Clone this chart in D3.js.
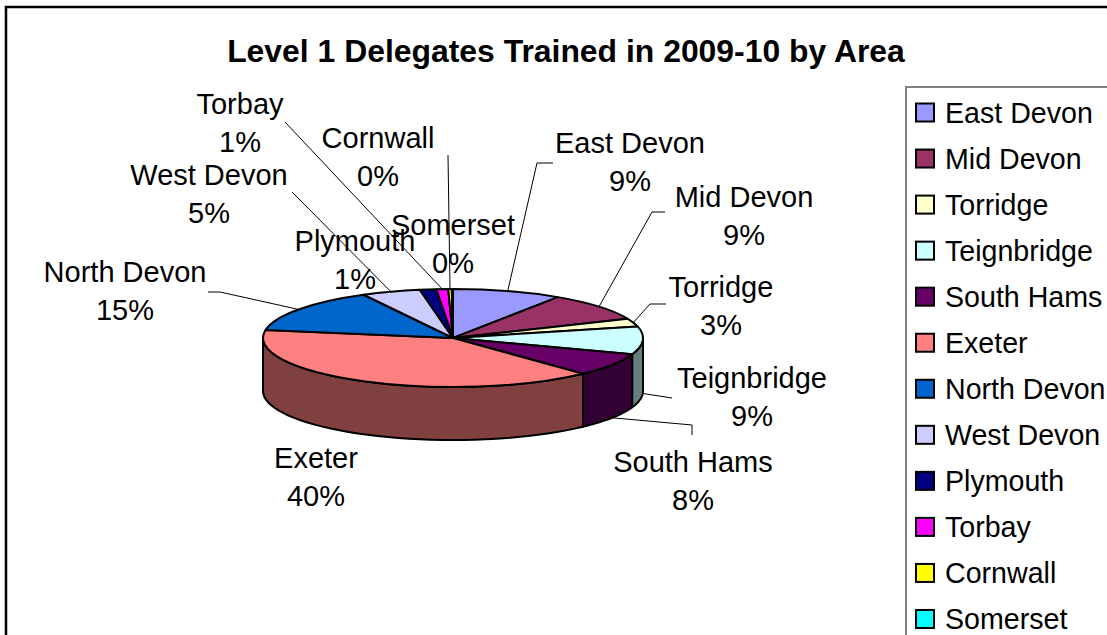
<!DOCTYPE html>
<html><head><meta charset="utf-8">
<script src="https://cdn.jsdelivr.net/npm/d3@7"></script>
<style>html,body{margin:0;padding:0;background:#fff;overflow:hidden}svg{display:block}text{font-family:"Liberation Sans",Arial,sans-serif;fill:#000}</style>
</head><body><svg id="c" width="1107" height="635"></svg>
<script>
const title = "Level 1 Delegates Trained in 2009-10 by Area";
const areas = ["East Devon","Mid Devon","Torridge","Teignbridge","South Hams","Exeter","North Devon","West Devon","Plymouth","Torbay","Cornwall","Somerset"];
const shares = [9.3,9.3,2.6,9.2,7.6,39.6,14.6,5.0,1.4,1.0,0.3,0.1];
const colours = ["#9999ff","#993366","#ffffcc","#ccffff","#660066","#ff8080","#0066cc","#ccccff","#000080","#ff00ff","#ffff00","#00ffff"];

// annotation layout: label centre (first line) and leader elbow points
const labelLayout = {
  "East Devon":{x:630,y:143,elbow:[[553,163],[537,163]]},
  "Mid Devon":{x:744,y:197,elbow:[[665,212],[652,212]]},
  "Torridge":{x:721,y:287,elbow:[[666,304],[650,304]]},
  "Teignbridge":{x:752,y:378,elbow:[[672,398]]},
  "South Hams":{x:693,y:462,elbow:[[692,435],[692,425]]},
  "Exeter":{x:316,y:458},
  "North Devon":{x:125,y:272,elbow:[[208,292],[220,292]]},
  "West Devon":{x:209,y:175,elbow:[[292,192]]},
  "Plymouth":{x:355,y:241},
  "Torbay":{x:240,y:104,elbow:[[285,122]]},
  "Cornwall":{x:378,y:138,elbow:[[448,155]]},
  "Somerset":{x:453,y:225}
};
const cx=453, cy=338, rx=190, ry=49, depth=53, fs=29, legendFs=28.6, lh=37.5;
const svg=d3.select("#c");
const fmt=d3.format(".0%");
const total=d3.sum(shares);
const pie=d3.pie().sort(null).value(d=>d.v);
const slices=pie(areas.map((n,i)=>({n,v:shares[i],c:colours[i]})));
const rim=(a,dy=0)=>[cx+rx*Math.sin(a),cy-ry*Math.cos(a)+dy];

// chart frame
svg.append("rect").attr("x",6).attr("y",7).attr("width",1120).attr("height",660).attr("fill","#fff").attr("stroke","#000").attr("stroke-width",2.5);
svg.append("text").attr("x",566).attr("y",62).attr("text-anchor","middle").attr("font-weight","bold").attr("font-size",31.9).text(title);

// side walls (front half only)
const wallColour=c=>{const k=d3.rgb(c);return d3.rgb(k.r/2,k.g/2,k.b/2).formatHex();};
const line=d3.line();
slices.forEach(s=>{
  const a0=Math.max(s.startAngle,Math.PI/2), a1=Math.min(s.endAngle,Math.PI*1.5);
  if(a1<=a0) return;
  const ts=d3.range(0,41).map(i=>a0+(a1-a0)*i/40);
  const pts=ts.map(t=>rim(t)).concat(ts.slice().reverse().map(t=>rim(t,depth)));
  svg.append("path").attr("d",line(pts)+"Z").attr("fill",wallColour(s.data.c)).attr("stroke","#000").attr("stroke-width",2).attr("stroke-linejoin","round");
});
// top faces
const arc=d3.arc().innerRadius(0).outerRadius(rx);
const faces=svg.append("g").attr("transform",`translate(${cx},${cy}) scale(1,${ry/rx})`);
faces.selectAll("path").data(slices).join("path").attr("d",arc).attr("fill",d=>d.data.c)
  .attr("stroke","#000").attr("stroke-width",2).attr("vector-effect","non-scaling-stroke").attr("stroke-linejoin","round");

// leader lines
slices.forEach(s=>{
  const L=labelLayout[s.data.n]; if(!L.elbow) return;
  const m=(s.startAngle+s.endAngle)/2;
  const front=m>Math.PI/2&&m<Math.PI*1.5;
  const pts=L.elbow.concat([rim(m,front?depth:0)]);
  svg.append("path").attr("d",line(pts)).attr("fill","none").attr("stroke","#000").attr("stroke-width",1);
});
// data labels
slices.forEach(s=>{
  const L=labelLayout[s.data.n];
  const t=svg.append("text").attr("text-anchor","middle").attr("font-size",fs);
  t.append("tspan").attr("x",L.x).attr("y",L.y+fs*0.36).text(s.data.n);
  t.append("tspan").attr("x",L.x).attr("y",L.y+lh+fs*0.36).text(fmt(s.data.v/total));
});
// legend
svg.append("rect").attr("x",906).attr("y",87).attr("width",260).attr("height",600).attr("fill","#fff").attr("stroke","#808080").attr("stroke-width",2);
const ly=d3.scalePoint().domain(areas).range([112.5,619]);
const lg=svg.selectAll("g.l").data(slices).join("g").attr("class","l").attr("transform",d=>`translate(915,${ly(d.data.n)})`);
lg.append("rect").attr("x",1).attr("y",-9).attr("width",18).attr("height",18).attr("fill",d=>d.data.c).attr("stroke","#000").attr("stroke-width",2);
lg.append("text").attr("x",30).attr("y",legendFs*0.36).attr("font-size",legendFs).text(d=>d.data.n);
</script></body></html>
